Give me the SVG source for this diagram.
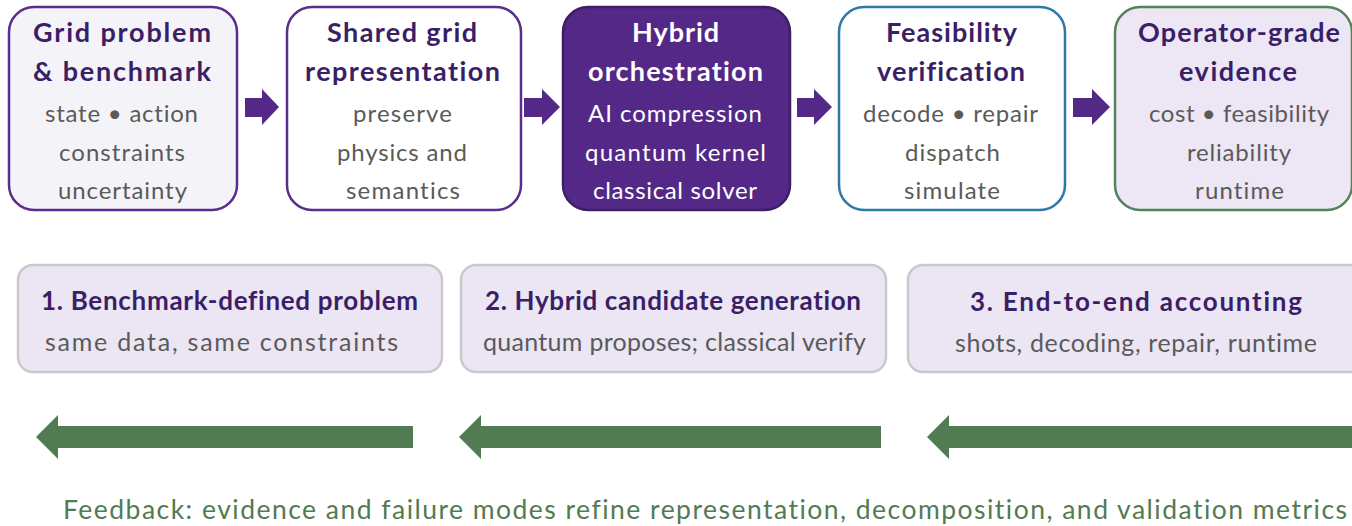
<svg xmlns="http://www.w3.org/2000/svg" width="1352" height="526" viewBox="0 0 1352 526">
<style>
text{font-family:Lato,"Open Sans","Liberation Sans",sans-serif;font-variant-ligatures:none}
.t{font-weight:bold;font-size:27px;fill:#3b1f66}
.s{font-size:24px;fill:#5a5a5a}
.mt{font-weight:bold;font-size:26px;fill:#3b1f66}
.ms{font-size:25px;fill:#5a5a5a}
.fb{font-size:26.5px;fill:#517b53}
.t.tw,.s.tw{fill:#ffffff}
.box{stroke-width:2.5}
.mid{fill:#ebe5f4;stroke:#c9c9cd;stroke-width:2.5}
.pa{fill:#532886}
.ga{fill:#517b53}
</style>

<g id="node-grid-problem">
<rect class="box" x="9" y="7" width="228" height="203" rx="25" fill="#f4f4f8" stroke="#5a2d8c"/>
<text class="t" x="33" y="42" textLength="178">Grid problem</text>
<text class="t" x="33" y="81" textLength="178">&amp; benchmark</text>
<text class="s" x="45" y="122" textLength="153">state • action</text>
<text class="s" x="59" y="161" textLength="126">constraints</text>
<text class="s" x="58" y="199" textLength="129">uncertainty</text>
</g>

<g id="node-shared-representation">
<rect class="box" x="287" y="7" width="234" height="203" rx="25" fill="#ffffff" stroke="#5a2d8c"/>
<text class="t" x="327" y="42" textLength="150">Shared grid</text>
<text class="t" x="305" y="81" textLength="195">representation</text>
<text class="s" x="353" y="122" textLength="99">preserve</text>
<text class="s" x="337" y="161" textLength="130">physics and</text>
<text class="s" x="346" y="199" textLength="114">semantics</text>
</g>

<g id="node-hybrid-orchestration">
<rect class="box" x="563" y="7" width="227" height="203" rx="25" fill="#532886" stroke="#3e1f66"/>
<text class="t tw" x="632" y="42" textLength="87">Hybrid</text>
<text class="t tw" x="588" y="81" textLength="175">orchestration</text>
<text class="s tw" x="588" y="122" textLength="174">AI compression</text>
<text class="s tw" x="585" y="161" textLength="181">quantum kernel</text>
<text class="s tw" x="593" y="199" textLength="164">classical solver</text>
</g>

<g id="node-feasibility">
<rect class="box" x="839" y="7" width="226" height="203" rx="25" fill="#ffffff" stroke="#2f78a8"/>
<text class="t" x="886" y="42" textLength="131">Feasibility</text>
<text class="t" x="877" y="81" textLength="148">verification</text>
<text class="s" x="863" y="122" textLength="175">decode • repair</text>
<text class="s" x="905" y="161" textLength="95">dispatch</text>
<text class="s" x="904" y="199" textLength="96">simulate</text>
</g>

<g id="node-evidence">
<rect class="box" x="1115" y="7" width="237" height="203" rx="25" fill="#ece6f5" stroke="#53835a"/>
<text class="t" x="1138" y="42" textLength="202">Operator-grade</text>
<text class="t" x="1179" y="81" textLength="118">evidence</text>
<text class="s" x="1149" y="122" textLength="180">cost • feasibility</text>
<text class="s" x="1187" y="161" textLength="104">reliability</text>
<text class="s" x="1195" y="199" textLength="89">runtime</text>
</g>

<g id="connectors">
<polygon class="pa" points="245,98 262,98 262,89 279,107 262,125 262,117 245,117"/>
<polygon class="pa" points="524,98 542,98 542,89 560,107 542,125 542,117 524,117"/>
<polygon class="pa" points="797,98 814,98 814,89 832,107 814,125 814,117 797,117"/>
<polygon class="pa" points="1073,98 1092,98 1092,89 1110,107 1092,125 1092,117 1073,117"/>
<polygon class="ga" points="413,426 58,426 58,415 36,437 58,459 58,448 413,448"/>
<polygon class="ga" points="881,426 481,426 481,415 459,437 481,459 481,448 881,448"/>
<polygon class="ga" points="1352,426 949,426 949,415 927,437 949,459 949,448 1352,448"/>
</g>

<g id="node-benchmark-defined">
<rect class="mid" x="18" y="265" width="424" height="107" rx="15"/>
<text class="mt" x="41" y="310" textLength="377">1. Benchmark-defined problem</text>
<text class="ms" x="45" y="351" textLength="353">same data, same constraints</text>
</g>

<g id="node-hybrid-candidate">
<rect class="mid" x="461" y="265" width="425" height="107" rx="15"/>
<text class="mt" x="485" y="310" textLength="376">2. Hybrid candidate generation</text>
<text class="ms" x="483" y="351" textLength="383">quantum proposes; classical verify</text>
</g>

<g id="node-end-to-end">
<rect class="mid" x="908" y="265" width="460" height="107" rx="15"/>
<text class="mt" x="970" y="311" textLength="332">3. End-to-end accounting</text>
<text class="ms" x="955" y="352" textLength="362">shots, decoding, repair, runtime</text>
</g>

<g id="feedback-caption">
<text class="fb" x="63" y="519" textLength="1284">Feedback: evidence and failure modes refine representation, decomposition, and validation metrics</text>
</g>
</svg>
